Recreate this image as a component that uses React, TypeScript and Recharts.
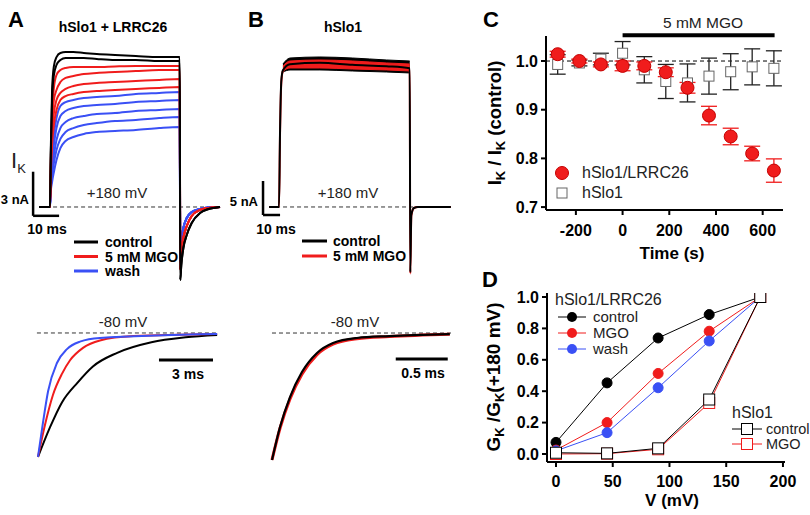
import React from 'react';
import {
  ComposedChart, Line, Area, Scatter, ErrorBar, XAxis, YAxis, ReferenceLine,
} from 'recharts';

const RED = '#f01c1c';
const BLUE = '#3a50f5';
const BLACK = '#000';
const BOLD = '"Liberation Sans", Arial, sans-serif';
const THIN = '"Liberation Sans", Arial, sans-serif';

// ---- Panel A, +180 mV sweeps (ms, nA) ----
const aTime = [-4.2, 0, 0.3, 0.8, 1.5, 2.5, 4, 6, 9, 13, 18, 25, 33, 42, 49.9];
const aTailTime = [50.1, 50.5, 51.3, 52.6, 54.5, 57.7, 61, 65.4];

const aControl = [
  [0, 0, 3.88, 7.96, 9.59, 10.2, 10.48, 10.54, 10.54, 10.48, 10.41, 10.34, 10.27, 10.2, 10.2],
  [0, 0, 3.54, 7.28, 8.98, 9.66, 10.0, 10.14, 10.14, 10.14, 10.07, 10.0, 10.0, 9.93, 9.93],
];
const aMgo = [
  [0, 0, 3.2, 6.26, 8.1, 8.98, 9.32, 9.46, 9.52, 9.52, 9.52, 9.56, 9.59, 9.59, 9.59],
  [0, 0, 2.86, 5.58, 7.28, 7.96, 8.5, 8.78, 8.91, 9.05, 9.12, 9.18, 9.25, 9.32, 9.32],
  [0, 0, 2.52, 4.9, 6.39, 7.28, 7.76, 8.03, 8.23, 8.37, 8.44, 8.5, 8.57, 8.64, 8.71],
  [0, 0, 2.18, 4.22, 5.58, 6.6, 7.28, 7.55, 7.69, 7.82, 7.89, 7.96, 8.03, 8.1, 8.16],
];
const aWash = [
  [0, 0, 1.84, 3.54, 4.9, 6.05, 6.87, 7.14, 7.28, 7.41, 7.48, 7.55, 7.69, 7.76, 7.82],
  [0, 0, 1.63, 2.99, 4.22, 5.37, 6.19, 6.53, 6.73, 6.87, 6.94, 7.01, 7.14, 7.21, 7.28],
  [0, 0, 1.43, 2.52, 3.54, 4.56, 5.37, 5.78, 6.05, 6.19, 6.33, 6.39, 6.53, 6.6, 6.67],
  [0, 0, 1.22, 2.11, 2.99, 3.88, 4.63, 5.1, 5.37, 5.58, 5.71, 5.85, 5.92, 6.05, 6.12],
  [0, 0, 1.02, 1.7, 2.38, 3.2, 4.01, 4.49, 4.76, 4.97, 5.1, 5.17, 5.24, 5.37, 5.44],
];
const aTailControl = [-4.97, -3.95, -2.79, -1.9, -1.09, -0.41, -0.14, 0];
const aTailMgo = [-4.29, -3.06, -2.11, -1.29, -0.61, -0.2, -0.07, 0];
const aTailWash = [-3.74, -2.38, -1.43, -0.75, -0.34, -0.14, -0.03, 0];

// ---- Panel B, +180 mV sweeps (ms, nA) ----
const bTime = [-3.8, 0, 0.4, 0.9, 1.5, 4.2, 15.6, 28, 41, 49.9, 50.1, 50.5, 51.5, 53, 65.6];
const bControl = [0, 0, 11.3, 18.7, 20.1, 21.0, 21.2, 20.9, 20.7, 20.4, -9.6, -1.2, -0.15, 0, 0];
const bMgo = [0, 0, 11.0, 18.4, 20.0, 20.9, 21.0, 20.7, 20.5, 20.3, -9.8, -1.3, -0.15, 0, 0];
// noise envelope on the plateau
const bBandTime = [1.5, 4.2, 15.6, 28, 41, 49.9];
const bControlHi = [21.03, 21.91, 22.06, 21.91, 21.62, 21.47];
const bControlLo = [19.85, 20.15, 20.15, 20.0, 19.85, 19.71];
const bMgoHi = [20.74, 21.47, 21.62, 21.47, 21.18, 21.03];
const bMgoLo = [20.0, 20.44, 20.44, 20.29, 20.15, 20.0];

// ---- -80 mV tails, normalised ----
const taTimeControl = [0, 0.67, 1.33, 2.2, 3.05, 4.4, 6.3, 8.2, 9.95];
const taControl = [-1, -0.76, -0.56, -0.4, -0.27, -0.16, -0.075, -0.035, -0.016];
const taTimeMgo = [0, 0.39, 0.83, 1.33, 1.78, 2.5, 3.44, 5.3, 9.95];
const taMgo = [-1, -0.74, -0.5, -0.33, -0.22, -0.12, -0.06, -0.025, -0.008];
const taTimeWash = [0, 0.28, 0.56, 1.06, 1.61, 2.33, 3.44, 9.95];
const taWash = [-1, -0.72, -0.47, -0.24, -0.13, -0.07, -0.04, -0.008];

const tbTime = [0, 0.077, 0.173, 0.288, 0.433, 0.587, 0.817, 1.13, 1.71];
const tbControl = [-1, -0.74, -0.504, -0.307, -0.157, -0.079, -0.039, -0.024, -0.008];
const tbMgo = [-1, -0.75, -0.52, -0.325, -0.17, -0.088, -0.045, -0.028, -0.01];

// ---- Panel C ----
const cTime = [-278, -185, -93, 0, 93, 185, 278, 370, 463, 555, 648];
const cLrrc = [1.014, 1.0, 0.993, 0.99, 0.99, 0.977, 0.945, 0.888, 0.845, 0.81, 0.775];
const cLrrcErr = [0.006, 0.004, 0.005, 0.01, 0.008, 0.009, 0.011, 0.019, 0.017, 0.015, 0.024];
const cSlo = [0.993, 0.996, 1.004, 1.016, 0.982, 0.958, 0.955, 0.969, 0.978, 0.988, 0.985];
const cSloErr = [0.02, 0.006, 0.012, 0.024, 0.027, 0.035, 0.039, 0.037, 0.037, 0.037, 0.036];

// ---- Panel D ----
const dVolt = [0, 45, 90, 135, 180];
const dControl = [0.074, 0.453, 0.739, 0.888, 1.0];
const dMgo = [0.025, 0.2, 0.513, 0.782, 1.0];
const dWash = [0.02, 0.136, 0.422, 0.72, 1.0];
const dSloControl = [0.008, 0.004, 0.036, 0.347, 1.0];
const dSloMgo = [0.0, 0.002, 0.03, 0.325, 1.0];

const pts = (xs: number[], ys: number[]) => xs.map((x, i) => ({ x, y: ys[i] }));

const tickStyle = { fill: '#000', fontSize: 16, fontWeight: 'bold', fontFamily: BOLD };
const axisStyle = { stroke: '#000', strokeWidth: 2 };

function PanelATop() {
  const series = [
    ...aWash.map((v) => ({ v, tail: aTailWash, c: BLUE })),
    ...aMgo.map((v) => ({ v, tail: aTailMgo, c: RED })),
    ...aControl.map((v) => ({ v, tail: aTailControl, c: BLACK })),
  ];
  return (
    <ComposedChart width={240} height={300} margin={{ top: 0, right: 0, bottom: 0, left: 0 }}
      style={{ position: 'absolute', left: 0, top: 0 }}>
      <XAxis type="number" dataKey="x" hide domain={[-19.23, 73.08]} allowDataOverflow />
      <YAxis type="number" hide domain={[-6.327, 14.082]} allowDataOverflow />
      <ReferenceLine segment={[{ x: -4.2, y: 0 }, { x: 65.4, y: 0 }]} stroke="#333" strokeDasharray="4 3" />
      <ReferenceLine segment={[{ x: -6.5, y: -0.6 }, { x: -6.5, y: 2.4 }]} stroke="#000" strokeWidth={2.5} />
      <ReferenceLine segment={[{ x: -6.5, y: -0.6 }, { x: 3.5, y: -0.6 }]} stroke="#000" strokeWidth={2.5} />
      {series.map((s, i) => (
        <Line key={i} data={[...pts(aTime, s.v), ...pts(aTailTime, s.tail)]} dataKey="y" type="monotone"
          stroke={s.c} strokeWidth={2} dot={false} activeDot={false} isAnimationActive={false} />
      ))}
    </ComposedChart>
  );
}

function PanelBTop() {
  const band = (hi: number[], lo: number[]) => bBandTime.map((x, i) => ({ x, r: [lo[i], hi[i]] }));
  return (
    <ComposedChart width={230} height={300} margin={{ top: 0, right: 0, bottom: 0, left: 0 }}
      style={{ position: 'absolute', left: 240, top: 0 }}>
      <XAxis type="number" dataKey="x" hide domain={[-14.89, 72.9]} allowDataOverflow />
      <YAxis type="number" hide domain={[-13.68, 30.44]} allowDataOverflow />
      <ReferenceLine segment={[{ x: -3.8, y: 0 }, { x: 65.6, y: 0 }]} stroke="#333" strokeDasharray="4 3" />
      <ReferenceLine segment={[{ x: -6.1, y: -1.18 }, { x: -6.1, y: 3.82 }]} stroke="#000" strokeWidth={2.5} />
      <ReferenceLine segment={[{ x: -6.1, y: -1.18 }, { x: 0.4, y: -1.18 }]} stroke="#000" strokeWidth={2.5} />
      <Line data={pts(bTime, bMgo)} dataKey="y" type="monotone" stroke={RED} strokeWidth={2} dot={false} activeDot={false} isAnimationActive={false} />
      <Line data={pts(bTime, bControl)} dataKey="y" type="monotone" stroke={BLACK} strokeWidth={2} dot={false} activeDot={false} isAnimationActive={false} />
      <Area data={band(bControlHi, bControlLo)} dataKey="r" type="monotone" stroke={BLACK} strokeWidth={1} fill={BLACK} fillOpacity={1} activeDot={false} isAnimationActive={false} />
      <Area data={band(bMgoHi, bMgoLo)} dataKey="r" type="monotone" stroke={RED} strokeWidth={1} fill={RED} fillOpacity={1} activeDot={false} isAnimationActive={false} />
    </ComposedChart>
  );
}

function PanelATail() {
  return (
    <ComposedChart width={240} height={215} margin={{ top: 0, right: 0, bottom: 0, left: 0 }}
      style={{ position: 'absolute', left: 0, top: 300 }}>
      <XAxis type="number" dataKey="x" hide domain={[-2.11, 11.22]} allowDataOverflow />
      <YAxis type="number" hide domain={[-1.468, 0.266]} allowDataOverflow />
      <ReferenceLine segment={[{ x: -0.06, y: 0 }, { x: 9.95, y: 0 }]} stroke="#333" strokeDasharray="4 3" />
      <ReferenceLine segment={[{ x: 6.72, y: -0.218 }, { x: 9.72, y: -0.218 }]} stroke="#000" strokeWidth={3} />
      <Line data={pts(taTimeControl, taControl)} dataKey="y" type="monotone" stroke={BLACK} strokeWidth={2} dot={false} activeDot={false} isAnimationActive={false} />
      <Line data={pts(taTimeMgo, taMgo)} dataKey="y" type="monotone" stroke={RED} strokeWidth={2} dot={false} activeDot={false} isAnimationActive={false} />
      <Line data={pts(taTimeWash, taWash)} dataKey="y" type="monotone" stroke={BLUE} strokeWidth={2} dot={false} activeDot={false} isAnimationActive={false} />
    </ComposedChart>
  );
}

function PanelBTail() {
  return (
    <ComposedChart width={230} height={215} margin={{ top: 0, right: 0, bottom: 0, left: 0 }}
      style={{ position: 'absolute', left: 240, top: 300 }}>
      <XAxis type="number" dataKey="x" hide domain={[-0.3077, 1.904]} allowDataOverflow />
      <YAxis type="number" hide domain={[-1.433, 0.26]} allowDataOverflow />
      <ReferenceLine segment={[{ x: 0, y: 0 }, { x: 1.722, y: 0 }]} stroke="#333" strokeDasharray="4 3" />
      <ReferenceLine segment={[{ x: 1.19, y: -0.205 }, { x: 1.69, y: -0.205 }]} stroke="#000" strokeWidth={3} />
      <Line data={pts(tbTime, tbMgo)} dataKey="y" type="monotone" stroke={RED} strokeWidth={3} dot={false} activeDot={false} isAnimationActive={false} />
      <Line data={pts(tbTime, tbControl)} dataKey="y" type="monotone" stroke={BLACK} strokeWidth={2.2} dot={false} activeDot={false} isAnimationActive={false} />
    </ComposedChart>
  );
}

const redDot = (p: any) => <circle key={`r${p.index}`} cx={p.cx} cy={p.cy} r={6.5} fill={RED} stroke="#c40000" strokeWidth={1} />;
const openSquare = (color: string, size: number) => (p: any) => (
  <rect key={`s${p.index}`} x={p.cx - size / 2} y={p.cy - size / 2} width={size} height={size} fill="#fff" stroke={color} strokeWidth={1} />
);
const filledDot = (color: string) => (p: any) => <circle key={`d${p.index}`} cx={p.cx} cy={p.cy} r={5} fill={color} stroke={color} />;

function PanelC() {
  const lrrc = cTime.map((x, i) => ({ x, y: cLrrc[i], e: cLrrcErr[i] }));
  const slo = cTime.map((x, i) => ({ x, y: cSlo[i], e: cSloErr[i] }));
  return (
    <ComposedChart width={340} height={270} margin={{ top: 36, right: 27, bottom: 30, left: 16 }}
      style={{ position: 'absolute', left: 470, top: 0 }}>
      <XAxis type="number" dataKey="x" domain={[-328, 687]} ticks={[-200, 0, 200, 400, 600]} allowDataOverflow
        height={30} tick={tickStyle} tickLine={axisStyle} axisLine={axisStyle} tickSize={5} tickMargin={10} />
      <YAxis type="number" dataKey="y" domain={[0.694, 1.0514]} ticks={[0.7, 0.8, 0.9, 1.0]} allowDataOverflow
        width={60} tick={tickStyle} tickLine={axisStyle} axisLine={axisStyle} tickSize={5} tickMargin={3}
        tickFormatter={(v: number) => v.toFixed(1)} />
      <ReferenceLine y={1} stroke="#000" strokeDasharray="4 3" />
      <ReferenceLine segment={[{ x: 0, y: 1.053 }, { x: 651, y: 1.053 }]} stroke="#000" strokeWidth={4} ifOverflow="visible" />
      <Scatter data={slo} dataKey="y" shape={openSquare('#666', 10)} isAnimationActive={false}>
        <ErrorBar dataKey="e" direction="y" width={8} stroke="#222" strokeWidth={1.3} isAnimationActive={false} />
      </Scatter>
      <Scatter data={lrrc} dataKey="y" shape={redDot} isAnimationActive={false}>
        <ErrorBar dataKey="e" direction="y" width={8} stroke={RED} strokeWidth={1.3} isAnimationActive={false} />
      </Scatter>
    </ComposedChart>
  );
}

function PanelD() {
  return (
    <ComposedChart width={330} height={245} margin={{ top: 23, right: 25, bottom: 23, left: 7 }}
      style={{ position: 'absolute', left: 480, top: 270 }}>
      <XAxis type="number" dataKey="x" domain={[-7.93, 201.8]} ticks={[0, 50, 100, 150, 200]} allowDataOverflow
        height={30} tick={tickStyle} tickLine={axisStyle} axisLine={axisStyle} tickSize={5} tickMargin={9} />
      <YAxis type="number" dataKey="y" domain={[-0.051, 1.0255]} ticks={[0, 0.2, 0.4, 0.6, 0.8, 1.0]} allowDataOverflow
        width={60} tick={tickStyle} tickLine={axisStyle} axisLine={axisStyle} tickSize={5} tickMargin={3}
        tickFormatter={(v: number) => v.toFixed(1)} />
      <Line data={pts(dVolt, dControl)} dataKey="y" stroke={BLACK} strokeWidth={1} dot={filledDot(BLACK)} activeDot={false} isAnimationActive={false} />
      <Line data={pts(dVolt, dMgo)} dataKey="y" stroke={RED} strokeWidth={1} dot={filledDot(RED)} activeDot={false} isAnimationActive={false} />
      <Line data={pts(dVolt, dWash)} dataKey="y" stroke={BLUE} strokeWidth={1} dot={filledDot(BLUE)} activeDot={false} isAnimationActive={false} />
      <Line data={pts(dVolt, dSloMgo)} dataKey="y" stroke={RED} strokeWidth={1} dot={openSquare(RED, 11)} activeDot={false} isAnimationActive={false} />
      <Line data={pts(dVolt, dSloControl)} dataKey="y" stroke={BLACK} strokeWidth={1} dot={openSquare(BLACK, 11)} activeDot={false} isAnimationActive={false} />
    </ComposedChart>
  );
}

function Overlay() {
  const b = { fontFamily: BOLD, fontWeight: 'bold' as const, fill: '#000' };
  const t = { fontFamily: THIN, fill: '#222' };
  return (
    <svg width={810} height={515} style={{ position: 'absolute', left: 0, top: 0, pointerEvents: 'none' }}>
      {/* panel A / B */}
      <text x={8} y={27} fontSize={22} {...b}>A</text>
      <text x={113} y={32} fontSize={14} textAnchor="middle" {...b}>hSlo1 + LRRC26</text>
      <text x={248} y={27} fontSize={22} {...b}>B</text>
      <text x={343} y={32} fontSize={14} textAnchor="middle" {...b}>hSlo1</text>
      <text x={11} y={168} fontSize={22} {...t}>I<tspan fontSize={13} dy={5}>K</tspan></text>
      <text x={29} y={204} fontSize={13} textAnchor="end" {...b}>3 nA</text>
      <text x={47} y={234} fontSize={14} textAnchor="middle" {...b}>10 ms</text>
      <text x={117} y={198} fontSize={15} textAnchor="middle" {...t}>+180 mV</text>
      <text x={258} y={206} fontSize={13} textAnchor="end" {...b}>5 nA</text>
      <text x={276} y={234} fontSize={14} textAnchor="middle" {...b}>10 ms</text>
      <text x={348} y={198} fontSize={15} textAnchor="middle" {...t}>+180 mV</text>
      {[['control', BLACK], ['5 mM MGO', RED], ['wash', BLUE]].map(([label, c], i) => (
        <g key={label}>
          <line x1={74} x2={98} y1={242 + i * 14.5} y2={242 + i * 14.5} stroke={c} strokeWidth={3} />
          <text x={105} y={247 + i * 14.5} fontSize={14} {...b}>{label}</text>
        </g>
      ))}
      {[['control', BLACK], ['5 mM MGO', RED]].map(([label, c], i) => (
        <g key={label}>
          <line x1={302} x2={327} y1={241 + i * 15} y2={241 + i * 15} stroke={c} strokeWidth={3} />
          <text x={333} y={246 + i * 15} fontSize={14} {...b}>{label}</text>
        </g>
      ))}
      <text x={123} y={327} fontSize={15} textAnchor="middle" {...t}>-80 mV</text>
      <text x={188} y={379} fontSize={14} textAnchor="middle" {...b}>3 ms</text>
      <text x={355} y={327} fontSize={15} textAnchor="middle" {...t}>-80 mV</text>
      <text x={423} y={378} fontSize={14} textAnchor="middle" {...b}>0.5 ms</text>

      {/* panel C */}
      <text x={483} y={27} fontSize={22} {...b}>C</text>
      <text x={703} y={28} fontSize={15.5} textAnchor="middle" {...t}>5 mM MGO</text>
      <circle cx={562} cy={173} r={6.5} fill={RED} stroke="#c40000" />
      <text x={582} y={178} fontSize={16} {...t}>hSlo1/LRRC26</text>
      <rect x={557} y={188} width={10} height={10} fill="#fff" stroke="#666" />
      <text x={582} y={198} fontSize={16} {...t}>hSlo1</text>
      <text x={672} y={259} fontSize={17} textAnchor="middle" {...b}>Time (s)</text>
      <text transform="translate(501,123) rotate(-90)" fontSize={18.5} textAnchor="middle" {...b}>
        I<tspan fontSize={13} dy={4}>K</tspan><tspan dy={-4}> / I</tspan><tspan fontSize={13} dy={4}>K</tspan><tspan dy={-4}> (control)</tspan>
      </text>

      {/* panel D */}
      <text x={482} y={287} fontSize={22} {...b}>D</text>
      <text x={555} y={305} fontSize={16} {...t}>hSlo1/LRRC26</text>
      {[['control', BLACK], ['MGO', RED], ['wash', BLUE]].map(([label, c], i) => (
        <g key={label}>
          <line x1={558} x2={586} y1={317 + i * 16} y2={317 + i * 16} stroke={c} strokeWidth={1} />
          <circle cx={572} cy={317 + i * 16} r={5} fill={c} />
          <text x={593} y={322 + i * 16} fontSize={15} {...t}>{label}</text>
        </g>
      ))}
      <text x={732} y={418} fontSize={16} {...t}>hSlo1</text>
      {[['control', BLACK], ['MGO', RED]].map(([label, c], i) => (
        <g key={label}>
          <line x1={732} x2={762} y1={429 + i * 15} y2={429 + i * 15} stroke={c} strokeWidth={1} />
          <rect x={741.5} y={423.5 + i * 15} width={11} height={11} fill="#fff" stroke={c} />
          <text x={766} y={434 + i * 15} fontSize={14.5} {...t}>{label}</text>
        </g>
      ))}
      <text x={672} y={506} fontSize={17} textAnchor="middle" {...b}>V (mV)</text>
      <text transform="translate(500,377) rotate(-90)" fontSize={19} textAnchor="middle" {...b}>
        G<tspan fontSize={13} dy={4}>K</tspan><tspan dy={-4}> /G</tspan><tspan fontSize={13} dy={4}>K</tspan><tspan dy={-4}>(+180 mV)</tspan>
      </text>
    </svg>
  );
}

export default function App() {
  return (
    <div style={{ position: 'absolute', left: 0, top: 0, width: 810, height: 515, background: '#fff', overflow: 'hidden' }}>
      <PanelATop />
      <PanelBTop />
      <PanelATail />
      <PanelBTail />
      <PanelC />
      <PanelD />
      <Overlay />
    </div>
  );
}
